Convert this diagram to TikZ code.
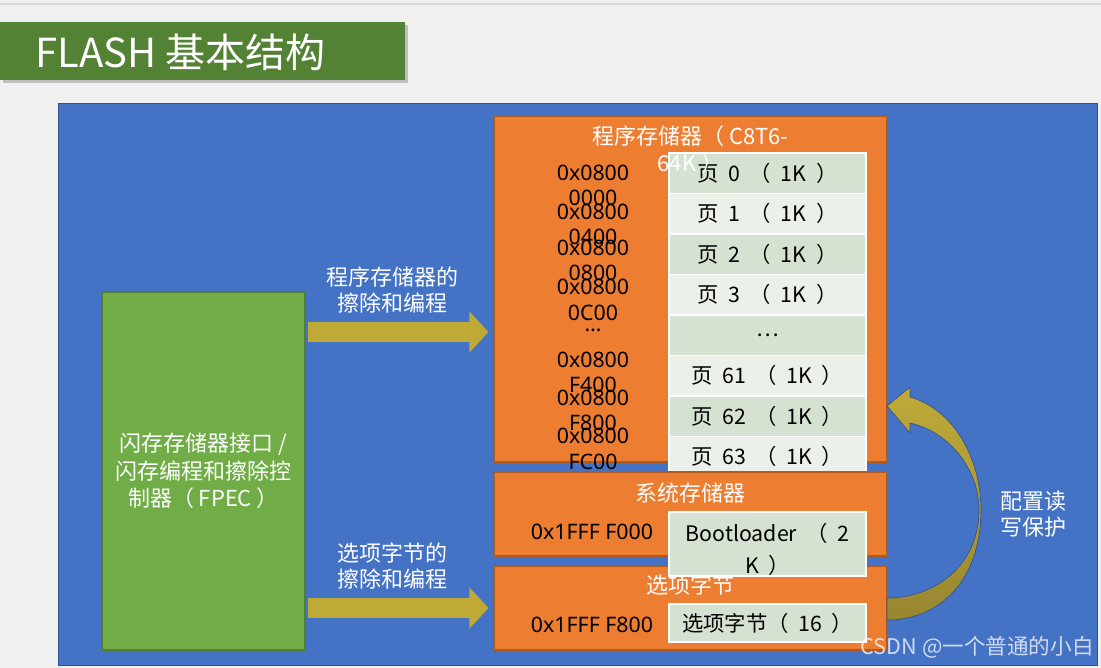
\documentclass[tikz,border=0pt]{standalone}
\usepackage{fontspec}
\setmainfont{Noto Sans CJK SC}
\newfontfamily\cellfont{Noto Sans CJK SC}[WordSpace=2]
\newfontfamily\latfont{Noto Sans}
\usetikzlibrary{arrows.meta,calc}
\definecolor{flBg}{HTML}{F0F0F0}
\definecolor{flTitle}{HTML}{548235}
\definecolor{flBlue}{HTML}{4472C4}
\definecolor{flBlueLine}{HTML}{2F528F}
\definecolor{flGreen}{HTML}{70AD47}
\definecolor{flGreenLine}{HTML}{507E32}
\definecolor{flOrange}{HTML}{ED7D31}
\definecolor{flOrangeLine}{HTML}{AE5A21}
\definecolor{flCellA}{HTML}{D5E2D1}
\definecolor{flCellB}{HTML}{EBF1E9}
\definecolor{flGold}{HTML}{BFAA38}
\definecolor{flGoldDark}{HTML}{978731}
\tikzset{
  % Orange memory region box
  membox/.style={rectangle,draw=flOrangeLine,fill=flOrange,line width=0.8pt,
    minimum width=294.75pt,inner sep=0pt},
  % Light green table cells
  cellA/.style={rectangle,draw=white,line width=1pt,fill=flCellA,
    minimum width=147.75pt,minimum height=30.4pt,inner sep=0pt,
    font=\cellfont\fontsize{16}{20}\selectfont,text=black},
  cellB/.style={cellA,fill=flCellB},
  % Address text (black)
  addr/.style={align=center,inner sep=0pt,
    font=\latfont\fontsize{16}{19}\selectfont,text=black},
  % White label
  wlbl/.style={align=center,inner sep=0pt,
    font=\fontsize{16.5}{20}\selectfont,text=white},
  % Block arrow
  blk/.style={-{Triangle[width=30pt,length=14.25pt]},line width=15pt,color=flGold},
}

\begin{document}
\begin{tikzpicture}[x=0.75pt,y=-0.75pt]
  \useasboundingbox (0,0) rectangle (1101,668);
  \fill[flBg] (0,0) rectangle (1101,668);
  \draw[black!15,line width=1.5pt] (0,4) -- (1101,4);

  % Title bar
  \fill[black!25] (3,25) rectangle (408,83);
  \node[fill=flTitle,minimum width=303.75pt,minimum height=43.5pt,inner sep=0pt]
    (titlebar) at (202.5,51) {};
  \node[anchor=west,inner sep=0pt,text=white,font=\fontsize{30}{36}\selectfont]
    (title) at (35,52) {FLASH 基本结构};

  % Blue panel
  \node[draw=flBlueLine,fill=flBlue,minimum width=779.25pt,minimum height=421.5pt,
    inner sep=0pt] (panel) at (577.5,384) {};

  % FPEC
  \node[draw=flGreenLine,fill=flGreen,line width=0.8pt,minimum width=152.25pt,
    minimum height=268.5pt,inner sep=0pt] (fpec) at (203.5,471) {};
  \node[wlbl,font=\fontsize{16.5}{20.6}\selectfont] (fpectxt) at (fpec)
    {闪存存储器接口 /\\闪存编程和擦除控\\制器（ FPEC ）};

  % Main flash memory
  \node[membox,minimum height=259.5pt] (prog) at (690.5,289) {};
  \foreach \t/\s [count=\i from 0] in {页 0 （ 1K ）/cellA,页 1 （ 1K ）/cellB,
      页 2 （ 1K ）/cellA,页 3 （ 1K ）/cellB,…/cellA,页 61 （ 1K ）/cellB,
      页 62 （ 1K ）/cellA,页 63 （ 1K ）/cellB}
    \node[\s] (page\i) at (767.5,{173.25+40.5*\i}) {\t};

  \node[addr] (ad0) at (593,185.5) {0x0800\\0000};
  \node[addr] (ad1) at (593,224.5) {0x0800\\0400};
  \node[addr] (ad2) at (593,260.5) {0x0800\\0800};
  \node[addr] (ad3) at (593,300) {0x0800\\0C00};
  \node[addr] (adx) at (593,330) {…};
  \node[addr] (ad61) at (593,372.5) {0x0800\\F400};
  \node[addr] (ad62) at (593,410.5) {0x0800\\F800};
  \node[addr] (ad63) at (593,449) {0x0800\\FC00};

  \node[wlbl,font=\fontsize{16.5}{20.25}\selectfont] (progtitle) at (690.5,149.5)
    {程序存储器（ C8T6-\\64K ）};

  % System memory and option bytes
  \node[membox,minimum height=63pt] (sys) at (690.5,514) {};
  \node[membox,minimum height=63pt] (opt) at (690.5,608) {};
  \node[wlbl] (systitle) at (690.5,493) {系统存储器};
  \node[wlbl] (opttitle) at (690.5,585) {选项字节};
  \node[addr] (adsys) at (592,532) {0x1FFF F000};
  \node[addr] (adopt) at (592,625) {0x1FFF F800};
  \node[cellA,minimum height=48pt] (boot) at (767.5,544) {};
  \node[align=center,inner sep=0pt,font=\cellfont\fontsize{16}{24}\selectfont]
    (boottxt) at (767.5,549) {Bootloader （ 2\\K ）};
  \node[cellA,minimum height=28.5pt] (optcell) at (767.5,623) {选项字节（ 16 ）};

  % Erase / program arrows
  \path (fpec.east |- 0,332) ++(2,0) coordinate (a1s);
  \path (prog.west |- 0,332) ++(-5,0) coordinate (a1e);
  \path (fpec.east |- 0,608) ++(2,0) coordinate (a2s);
  \path (opt.west |- 0,608) ++(-5,0) coordinate (a2e);
  \draw[blk] (a1s) -- (a1e);
  \draw[blk] (a2s) -- (a2e);
  \node[wlbl,font=\fontsize{16.5}{19.5}\selectfont] (lbl1) at (392,290)
    {程序存储器的\\擦除和编程};
  \node[wlbl,font=\fontsize{16.5}{19.5}\selectfont] (lbl2) at (392,566)
    {选项字节的\\擦除和编程};

  % Read / write protection arrow
  \shade[top color=flGold,bottom color=flGoldDark,draw=flBlueLine,line width=0.5pt]
    (910,397) .. controls (955,410) and (981,460) .. (981,510)
    .. controls (981,580) and (940,620) .. (887,620) -- (887,598)
    .. controls (935,598) and (979,565) .. (979,510)
    .. controls (979,470) and (950,432) .. (910,423)
    -- (910,433) -- (887,406) -- (910,387) -- cycle;
  \node[wlbl,font=\fontsize{16.5}{19.5}\selectfont] (lblprot) at (1033,514)
    {配置读\\写保护};

  \node[anchor=east,inner sep=0pt,text=white,opacity=0.75,
    font=\fontsize{16.2}{19}\selectfont] (wm) at (1094,647) {CSDN @一个普通的小白};
\end{tikzpicture}
\end{document}
